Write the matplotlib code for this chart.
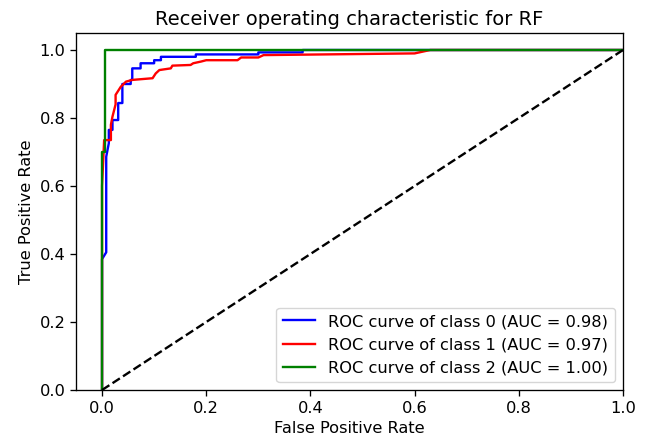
import matplotlib
matplotlib.use('Agg')
import matplotlib.pyplot as plt

# ROC points per class (false positive rate / true positive rate)
fpr_0 = [0, 0, 0.008, 0.008, 0.013, 0.013, 0.02, 0.02, 0.031, 0.031, 0.039, 0.039,
         0.055, 0.055, 0.058, 0.058, 0.074, 0.074, 0.10, 0.10, 0.113, 0.113,
         0.18, 0.18, 0.30, 0.30, 0.385, 0.385, 1.0]
tpr_0 = [0, 0.385, 0.405, 0.686, 0.726, 0.765, 0.765, 0.794, 0.794, 0.844, 0.844, 0.90,
         0.90, 0.912, 0.912, 0.946, 0.946, 0.961, 0.961, 0.97, 0.97, 0.98,
         0.98, 0.987, 0.987, 0.993, 0.993, 1.0, 1.0]

fpr_1 = [0, 0, 0.004, 0.017, 0.017, 0.02, 0.026, 0.026, 0.036, 0.046, 0.058, 0.097,
         0.103, 0.11, 0.132, 0.135, 0.17, 0.175, 0.19, 0.2, 0.26, 0.267, 0.30, 0.31,
         0.60, 0.63, 1.0]
tpr_1 = [0, 0.60, 0.735, 0.735, 0.78, 0.804, 0.84, 0.868, 0.892, 0.907, 0.912, 0.917,
         0.931, 0.941, 0.946, 0.954, 0.956, 0.961, 0.966, 0.97, 0.97, 0.978, 0.978, 0.985,
         0.99, 1.0, 1.0]

fpr_2 = [0, 0, 0.006, 0.006, 1.0]
tpr_2 = [0, 0.70, 0.70, 1.0, 1.0]

roc_auc = [0.98, 0.97, 1.00]
colors = ['blue', 'red', 'green']

plt.rcParams['font.size'] = 11.7
plt.rcParams['axes.linewidth'] = 0.95
plt.rcParams['xtick.major.width'] = 0.95
plt.rcParams['ytick.major.width'] = 0.95
plt.rcParams['xtick.major.size'] = 4.1
plt.rcParams['ytick.major.size'] = 4.1

fig = plt.figure(figsize=(6.49, 4.43), dpi=100)
ax = fig.add_axes([76 / 649, 53 / 443, 547 / 649, 357 / 443])

curves = [(fpr_0, tpr_0), (fpr_1, tpr_1), (fpr_2, tpr_2)]
for i, ((fpr, tpr), color) in enumerate(zip(curves, colors)):
    ax.plot(fpr, tpr, color=color, lw=1.7,
            label='ROC curve of class {0} (AUC = {1:0.2f})'.format(i, roc_auc[i]))

ax.plot([0, 1], [0, 1], 'k--', lw=1.7)
ax.set_xlim([-0.05, 1.0])
ax.set_ylim([0.0, 1.05])
ax.set_xlabel('False Positive Rate')
ax.set_ylabel('True Positive Rate')
ax.set_title('Receiver operating characteristic for RF', fontsize=14)
ax.legend(loc='lower right')

fig.savefig('out.png', dpi=100)
